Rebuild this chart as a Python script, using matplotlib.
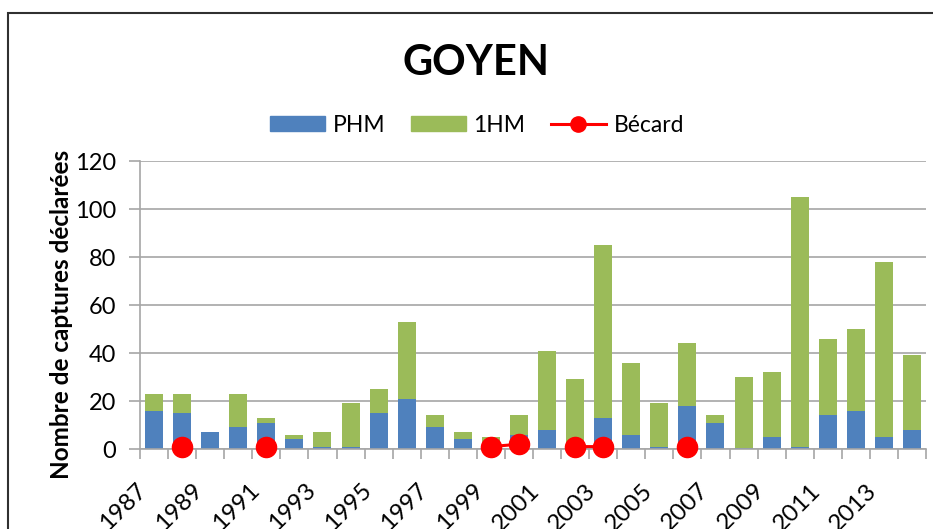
import numpy as np
import matplotlib
matplotlib.use("Agg")
import matplotlib.pyplot as plt
import matplotlib.transforms as mtransforms
from matplotlib.patches import Rectangle
from matplotlib.lines import Line2D
from matplotlib.patches import Patch

plt.rcParams['font.family'] = ['Lato', 'DejaVu Sans']

# data
years = list(range(1987, 2015))
phm = [16, 15, 7, 9, 11, 4, 1, 1, 15, 21, 9, 4, 1, 6,
       8, 2, 13, 6, 1, 18, 11, 0.5, 5, 1, 14, 16, 5, 8]
hm1 = [7, 8, 0, 14, 2, 2, 6, 18, 10, 32, 5, 3, 4, 8,
       33, 27, 72, 30, 18, 26, 3, 29.5, 27, 104, 32, 34, 73, 31]
becard = [np.nan, 1, np.nan, np.nan, 1, np.nan, np.nan, np.nan, np.nan, np.nan,
          np.nan, np.nan, 1, 2, np.nan, 1, 1, np.nan, np.nan, 1,
          np.nan, np.nan, np.nan, np.nan, np.nan, np.nan, np.nan, np.nan]
tick_years = years[::2]

blue = '#4F81BD'
green = '#9BBB59'
red = '#FF0000'
grid_c = '#A6A6A6'

W, H = 933, 529
fig = plt.figure(figsize=(W / 100, H / 100), dpi=100)
ax = fig.add_axes([140 / W, 1 - 449 / H, (926 - 140) / W, (449 - 161) / H])

x = np.arange(len(years))
ax.bar(x, phm, width=0.64, color=blue, zorder=2)
ax.bar(x, hm1, width=0.64, bottom=phm, color=green, zorder=2)
ax.plot(x, becard, color=red, lw=2.2, marker='o', ms=14.5, zorder=3, clip_on=False)

ax.set_xlim(-0.5, len(years) - 0.5)
ax.set_ylim(0, 120)
ax.set_yticks(range(0, 121, 20))
ax.yaxis.grid(True, color=grid_c, lw=1.2, zorder=0)
ax.set_axisbelow(True)

# category boundaries carry the tick marks, labels sit under every other bar
ax.set_xticks(np.arange(-0.5, len(years), 1), minor=True)
ax.set_xticks([years.index(y) for y in tick_years])
ax.set_xticklabels([str(y) for y in tick_years], rotation=45, ha='right',
                   rotation_mode='anchor')
ax.tick_params(axis='x', which='major', length=0, pad=22, labelsize=17.5)
ax.tick_params(axis='x', which='minor', length=7, color=grid_c, width=1.2)
ax.tick_params(axis='y', length=8, color=grid_c, width=1.2, labelsize=17, pad=9)
shift = mtransforms.ScaledTranslation(-18 / 100, 0, fig.dpi_scale_trans)
for lab in ax.get_xticklabels():
    lab.set_transform(lab.get_transform() + shift)

for s in ['top', 'right']:
    ax.spines[s].set_visible(False)
for s in ['left', 'bottom']:
    ax.spines[s].set_color(grid_c)
    ax.spines[s].set_linewidth(1.2)

ax.set_ylabel('Nombre de captures déclarées', fontsize=17.5, fontweight='bold')
ax.yaxis.set_label_coords((62 - 140) / (926 - 140), (449 - 314) / (449 - 161))
ax.yaxis.label.set_va('center')

fig.text(476 / W, 1 - 63 / H, 'GOYEN', fontsize=30, fontweight='bold',
         ha='center', va='center')

handles = [Patch(color=blue), Patch(color=green),
           Line2D([], [], color=red, lw=2.2, marker='o', ms=11)]
fig.legend(handles, ['PHM', '1HM', 'Bécard'], loc='center',
           bbox_to_anchor=(477 / W, 1 - 125 / H), ncol=3, frameon=False,
           fontsize=16.5, handlelength=2.4, handleheight=0.65, columnspacing=1.1,
           handletextpad=0.35)

# chart area border
fig.add_artist(Rectangle((8 / W, -0.1), 1.2, 1.1 - 13 / H, transform=fig.transFigure,
                         fill=False, edgecolor='#303030', lw=1.5))

fig.savefig('out.png', dpi=100)
